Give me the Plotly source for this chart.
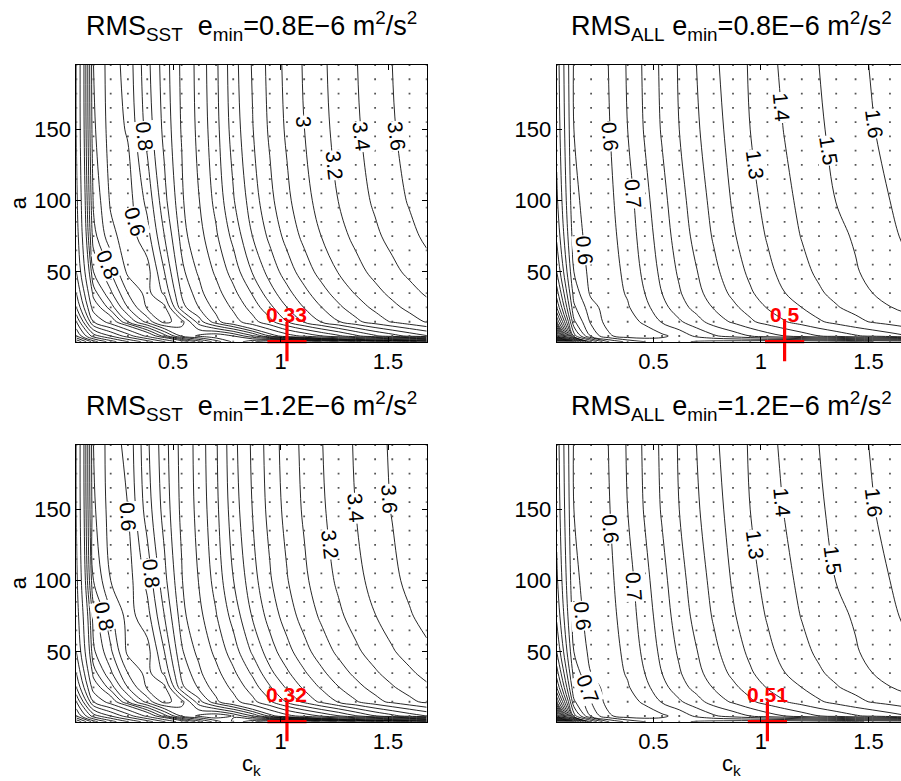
import math
import plotly.graph_objects as go

W, H = 901, 781

# parameter grid of the RMS surfaces
c_k = [0.05, 0.13, 0.21, 0.29, 0.38, 0.46, 0.54, 0.62, 0.70, 0.78, 0.87,
       0.95, 1.03, 1.11, 1.19, 1.27, 1.35, 1.44, 1.52, 1.60, 1.68]
a_rows = [1, 5, 15, 25, 35, 50, 75, 100, 150, 195]

# sampled parameter points shown as dots
sample_ck = c_k
sample_a = [1, 5, 15, 25, 35, 45, 55, 65, 75, 85, 95, 105, 115, 125, 135,
            145, 155, 165, 175, 185, 195]

rms_sst_08 = [
    [3.6, 2.9, 2.5, 2.2, 1.9, 1.6, 1.3, 1.05, 0.85, 0.68, 0.52, 0.40, 0.33, 0.40, 0.50, 0.60, 0.68, 0.75, 0.81, 0.87, 0.94],
    [3.0, 2.3, 2.0, 1.7, 1.35, 1.05, 0.78, 0.68, 0.62, 0.70, 0.88, 1.10, 1.30, 1.44, 1.595, 1.755, 1.951, 2.16, 2.306, 2.45, 2.582],
    [2.6, 1.6, 1.3, 1.0, 0.76, 0.56, 0.66, 0.95, 1.158, 1.312, 1.525, 1.736, 1.994, 2.221, 2.415, 2.591, 2.749, 2.902, 3.019, 3.122, 3.215],
    [2.2, 1.3, 1.05, 0.80, 0.585, 0.575, 0.963, 1.10, 1.239, 1.434, 1.682, 1.945, 2.198, 2.406, 2.595, 2.762, 2.906, 3.043, 3.152, 3.247, 3.336],
    [2.0, 1.15, 0.92, 0.70, 0.565, 0.72, 1.011, 1.153, 1.326, 1.541, 1.82, 2.116, 2.335, 2.541, 2.725, 2.883, 3.014, 3.144, 3.245, 3.338, 3.424],
    [1.8, 1.0, 0.80, 0.575, 0.56, 0.80, 1.071, 1.219, 1.436, 1.682, 2.016, 2.275, 2.498, 2.699, 2.871, 3.01, 3.133, 3.254, 3.352, 3.441, 3.527],
    [1.7, 0.84, 0.63, 0.55, 0.66, 0.90, 1.134, 1.325, 1.57, 1.857, 2.203, 2.446, 2.667, 2.852, 3.002, 3.133, 3.248, 3.365, 3.458, 3.55, 3.638],
    [1.65, 0.78, 0.585, 0.555, 0.73, 0.97, 1.174, 1.393, 1.659, 1.98, 2.304, 2.546, 2.757, 2.931, 3.077, 3.204, 3.316, 3.43, 3.524, 3.618, 3.703],
    [1.6, 0.72, 0.555, 0.61, 0.84, 1.03, 1.209, 1.451, 1.735, 2.085, 2.391, 2.632, 2.834, 2.998, 3.139, 3.261, 3.371, 3.482, 3.581, 3.672, 3.753],
    [1.6, 0.70, 0.55, 0.64, 0.87, 1.05, 1.22, 1.47, 1.76, 2.12, 2.42, 2.66, 2.86, 3.02, 3.16, 3.28, 3.39, 3.50, 3.60, 3.69, 3.77],
]

rms_all_08 = [
    [3.6, 1.9, 1.2, 0.9, 0.77, 0.70, 0.65, 0.62, 0.59, 0.57, 0.555, 0.54, 0.52, 0.502, 0.51, 0.53, 0.56, 0.585, 0.60, 0.62, 0.635],
    [2.6, 1.15, 0.78, 0.62, 0.54, 0.535, 0.58, 0.635, 0.72, 0.785, 0.845, 0.90, 0.956, 1.00, 1.05, 1.098, 1.138, 1.187, 1.22, 1.258, 1.295],
    [1.8, 0.92, 0.68, 0.56, 0.555, 0.62, 0.71, 0.785, 0.86, 0.945, 1.015, 1.083, 1.138, 1.194, 1.24, 1.287, 1.33, 1.373, 1.41, 1.436, 1.464],
    [1.5, 0.82, 0.64, 0.55, 0.59, 0.67, 0.765, 0.855, 0.935, 1.006, 1.08, 1.138, 1.206, 1.256, 1.30, 1.352, 1.392, 1.43, 1.46, 1.497, 1.525],
    [1.35, 0.76, 0.58, 0.55, 0.61, 0.70, 0.80, 0.89, 0.97, 1.046, 1.12, 1.188, 1.243, 1.298, 1.346, 1.388, 1.424, 1.46, 1.50, 1.529, 1.556],
    [1.2, 0.70, 0.565, 0.555, 0.625, 0.725, 0.825, 0.915, 0.995, 1.075, 1.155, 1.219, 1.276, 1.33, 1.376, 1.416, 1.453, 1.492, 1.526, 1.556, 1.587],
    [1.08, 0.65, 0.555, 0.565, 0.645, 0.75, 0.85, 0.945, 1.03, 1.11, 1.19, 1.247, 1.308, 1.36, 1.404, 1.44, 1.478, 1.51, 1.55, 1.584, 1.614],
    [1.02, 0.625, 0.55, 0.575, 0.66, 0.77, 0.87, 0.965, 1.05, 1.13, 1.21, 1.27, 1.328, 1.377, 1.42, 1.457, 1.502, 1.537, 1.565, 1.60, 1.632],
    [0.97, 0.60, 0.548, 0.59, 0.70, 0.81, 0.91, 1.00, 1.085, 1.16, 1.237, 1.30, 1.356, 1.404, 1.446, 1.487, 1.524, 1.563, 1.596, 1.627, 1.657],
    [0.95, 0.59, 0.545, 0.60, 0.71, 0.82, 0.92, 1.01, 1.10, 1.18, 1.25, 1.31, 1.37, 1.42, 1.46, 1.50, 1.535, 1.574, 1.608, 1.64, 1.67],
]

rms_sst_12 = [
    [3.6, 2.9, 2.5, 2.2, 1.9, 1.6, 1.3, 1.05, 0.85, 0.68, 0.52, 0.40, 0.32, 0.40, 0.51, 0.61, 0.70, 0.77, 0.83, 0.89, 0.96],
    [3.0, 2.3, 2.0, 1.7, 1.35, 1.05, 0.78, 0.68, 0.62, 0.71, 0.90, 1.13, 1.33, 1.47, 1.625, 1.785, 1.98, 2.19, 2.335, 2.48, 2.61],
    [2.6, 1.6, 1.3, 1.0, 0.76, 0.56, 0.66, 0.96, 1.17, 1.325, 1.54, 1.766, 2.024, 2.251, 2.445, 2.621, 2.779, 2.932, 3.049, 3.152, 3.245],
    [2.2, 1.3, 1.05, 0.80, 0.585, 0.575, 0.975, 1.115, 1.254, 1.449, 1.697, 1.975, 2.228, 2.436, 2.625, 2.792, 2.936, 3.073, 3.182, 3.277, 3.366],
    [2.0, 1.15, 0.92, 0.70, 0.565, 0.72, 1.025, 1.168, 1.341, 1.556, 1.835, 2.146, 2.365, 2.571, 2.755, 2.913, 3.044, 3.174, 3.275, 3.368, 3.454],
    [1.8, 1.02, 0.82, 0.575, 0.56, 0.80, 1.085, 1.234, 1.451, 1.697, 2.031, 2.305, 2.528, 2.729, 2.901, 3.04, 3.163, 3.284, 3.382, 3.471, 3.557],
    [1.7, 0.95, 0.72, 0.56, 0.66, 0.90, 1.149, 1.34, 1.585, 1.872, 2.218, 2.476, 2.697, 2.882, 3.032, 3.163, 3.278, 3.395, 3.488, 3.58, 3.668],
    [1.65, 0.80, 0.60, 0.555, 0.73, 0.97, 1.189, 1.408, 1.674, 1.995, 2.32, 2.576, 2.787, 2.961, 3.107, 3.234, 3.346, 3.46, 3.554, 3.648, 3.733],
    [1.6, 0.72, 0.555, 0.60, 0.85, 1.04, 1.224, 1.466, 1.75, 2.10, 2.407, 2.662, 2.864, 3.028, 3.169, 3.291, 3.401, 3.512, 3.611, 3.702, 3.783],
    [1.6, 0.70, 0.55, 0.63, 0.88, 1.06, 1.235, 1.485, 1.775, 2.135, 2.435, 2.69, 2.89, 3.05, 3.19, 3.31, 3.42, 3.53, 3.63, 3.72, 3.80],
]

rms_all_12 = [
    [3.6, 1.9, 1.2, 0.9, 0.77, 0.70, 0.65, 0.62, 0.59, 0.57, 0.55, 0.53, 0.51, 0.515, 0.53, 0.55, 0.57, 0.59, 0.61, 0.625, 0.64],
    [2.6, 1.15, 0.78, 0.62, 0.54, 0.535, 0.58, 0.635, 0.72, 0.785, 0.845, 0.90, 0.956, 1.00, 1.05, 1.098, 1.138, 1.187, 1.22, 1.258, 1.295],
    [1.8, 0.92, 0.70, 0.56, 0.555, 0.62, 0.71, 0.785, 0.86, 0.945, 1.015, 1.083, 1.138, 1.194, 1.24, 1.287, 1.33, 1.373, 1.41, 1.436, 1.464],
    [1.5, 0.82, 0.66, 0.55, 0.59, 0.67, 0.765, 0.855, 0.935, 1.006, 1.08, 1.138, 1.206, 1.256, 1.30, 1.352, 1.392, 1.43, 1.46, 1.497, 1.525],
    [1.35, 0.76, 0.60, 0.55, 0.61, 0.70, 0.80, 0.89, 0.97, 1.046, 1.12, 1.188, 1.243, 1.298, 1.346, 1.388, 1.424, 1.46, 1.50, 1.529, 1.556],
    [1.2, 0.70, 0.57, 0.555, 0.625, 0.725, 0.825, 0.915, 0.995, 1.075, 1.155, 1.219, 1.276, 1.33, 1.376, 1.416, 1.453, 1.492, 1.526, 1.556, 1.587],
    [1.08, 0.65, 0.555, 0.565, 0.645, 0.75, 0.85, 0.945, 1.03, 1.11, 1.19, 1.247, 1.308, 1.36, 1.404, 1.44, 1.478, 1.51, 1.55, 1.584, 1.614],
    [1.02, 0.625, 0.55, 0.575, 0.66, 0.77, 0.87, 0.965, 1.05, 1.13, 1.21, 1.27, 1.328, 1.377, 1.42, 1.457, 1.502, 1.537, 1.565, 1.60, 1.632],
    [0.97, 0.60, 0.548, 0.59, 0.70, 0.81, 0.91, 1.00, 1.085, 1.16, 1.237, 1.30, 1.356, 1.404, 1.446, 1.487, 1.524, 1.563, 1.596, 1.627, 1.657],
    [0.95, 0.59, 0.545, 0.60, 0.71, 0.82, 0.92, 1.01, 1.10, 1.18, 1.25, 1.31, 1.37, 1.42, 1.46, 1.50, 1.535, 1.574, 1.608, 1.64, 1.67],
]

# contour levels: fine spacing for low RMS values, coarser above
levels_sst = [(0.4, 1.2, 0.1), (1.4, 8.0, 0.2)]
levels_all = [(0.5, 4.0, 0.1)]

# contour labels: (level, a where the label sits, c_k search window)
labels_sst_08 = [(0.8, 145, 0.30, 0.50), (0.6, 85, 0.25, 0.45), (0.8, 55, 0.10, 0.30),
                 (3.0, 155, 0.9, 1.3), (3.2, 125, 1.0, 1.4), (3.4, 145, 1.2, 1.5), (3.6, 145, 1.4, 1.68)]
labels_all_08 = [(0.6, 145, 0.20, 0.40), (0.7, 105, 0.30, 0.55), (0.6, 65, 0.08, 0.30),
                 (1.3, 125, 0.8, 1.1), (1.4, 165, 0.95, 1.25), (1.5, 135, 1.1, 1.45), (1.6, 154, 1.35, 1.64)]
labels_sst_12 = [(0.6, 145, 0.20, 0.40), (0.8, 105, 0.30, 0.50), (0.8, 75, 0.10, 0.30),
                 (3.2, 125, 1.0, 1.4), (3.4, 151, 1.2, 1.5), (3.6, 157, 1.4, 1.68)]
labels_all_12 = [(0.6, 136, 0.20, 0.40), (0.7, 96, 0.30, 0.55), (0.6, 75, 0.08, 0.30), (0.7, 24, 0.08, 0.35),
                 (1.3, 125, 0.8, 1.1), (1.4, 155, 0.95, 1.25), (1.5, 114, 1.1, 1.45), (1.6, 155, 1.35, 1.64)]

FONT = "Liberation Sans, Arial, Helvetica, sans-serif"
NB = "\u00a0"
PLOT_W = 350.4  # width of one full panel in pixels

# panel geometry in pixels: left, right, top, bottom and visible c_k range
panels = [
    dict(z=rms_sst_08, labels=labels_sst_08, levels=levels_sst,
         title="RMS<sub>SST</sub>" + NB * 2 + "e<sub>min</sub>=0.8E\u22126 m<sup>2</sup>/s<sup>2</sup>",
         box=(76.3, 426.7, 65.0, 341.7), xr=(0.05, 1.68), ylab=True, xlab=False),
    dict(z=rms_all_08, labels=labels_all_08, levels=levels_all,
         title="RMS<sub>ALL</sub> e<sub>min</sub>=0.8E\u22126 m<sup>2</sup>/s<sup>2</sup>",
         box=(556.7, 901.0, 65.0, 341.7), xr=(0.05, 0.05 + (901.0 - 556.7) / 215.0), ylab=False, xlab=False),
    dict(z=rms_sst_12, labels=labels_sst_12, levels=levels_sst,
         title="RMS<sub>SST</sub>" + NB * 2 + "e<sub>min</sub>=1.2E\u22126 m<sup>2</sup>/s<sup>2</sup>",
         box=(76.3, 426.7, 445.0, 721.7), xr=(0.05, 1.68), ylab=True, xlab=True),
    dict(z=rms_all_12, labels=labels_all_12, levels=levels_all,
         title="RMS<sub>ALL</sub> e<sub>min</sub>=1.2E\u22126 m<sup>2</sup>/s<sup>2</sup>",
         box=(556.7, 901.0, 445.0, 721.7), xr=(0.05, 0.05 + (901.0 - 556.7) / 215.0), ylab=False, xlab=True),
]

A_RANGE = (1, 195)


def row_at(z, a):
    for i in range(len(a_rows) - 1):
        if a_rows[i] <= a <= a_rows[i + 1]:
            t = (a - a_rows[i]) / (a_rows[i + 1] - a_rows[i])
            return [(1 - t) * z[i][j] + t * z[i + 1][j] for j in range(len(c_k))]
    return z[-1] if a > a_rows[-1] else z[0]


def crossing(z, level, a, lo, hi):
    r = row_at(z, a)
    for j in range(len(c_k) - 1):
        v0, v1 = r[j], r[j + 1]
        if v0 == v1 or (v0 - level) * (v1 - level) > 0:
            continue
        c = c_k[j] + (level - v0) / (v1 - v0) * (c_k[j + 1] - c_k[j])
        if lo <= c <= hi:
            return c
    return None


fig = go.Figure()
annotations = []

for k, p in enumerate(panels):
    xa = "x" if k == 0 else f"x{k + 1}"
    ya = "y" if k == 0 else f"y{k + 1}"
    z = p["z"]
    L, R, T, B = p["box"]
    cx = L + PLOT_W / 2
    sx = (R - L) / (p["xr"][1] - p["xr"][0])
    sy = (B - T) / (A_RANGE[1] - A_RANGE[0])

    for start, end, size in p["levels"]:
        fig.add_trace(go.Contour(
            x=c_k, y=a_rows, z=z, xaxis=xa, yaxis=ya,
            autocontour=False,
            contours=dict(start=start, end=end + 1e-6, size=size,
                          coloring="none", showlabels=False),
            line=dict(color="black", width=0.85, smoothing=1),
            showscale=False, hoverinfo="skip"))

    fig.add_trace(go.Scatter(
        x=[c for _ in sample_a for c in sample_ck],
        y=[a for a in sample_a for _ in sample_ck],
        mode="markers", xaxis=xa, yaxis=ya,
        marker=dict(size=1.8, color="#555555", symbol="square"),
        hoverinfo="skip", showlegend=False))

    # contour value labels placed on their lines
    for level, a0, lo, hi in p["labels"]:
        c0 = crossing(z, level, a0, lo, hi)
        if c0 is None:
            continue
        a_hi, a_lo = min(a0 + 6, 195), max(a0 - 6, 1)
        c_up = crossing(z, level, a_hi, lo - 0.1, hi + 0.1) or c0
        c_dn = crossing(z, level, a_lo, lo - 0.1, hi + 0.1) or c0
        ang = math.degrees(math.atan2((a_hi - a_lo) * sy, (c_dn - c_up) * sx))
        annotations.append(dict(
            x=c0, y=a0, xref=xa, yref=ya, text=f"{level:g}", showarrow=False,
            textangle=ang, font=dict(family=FONT, size=21, color="black"),
            bgcolor="white", borderpad=0))

    # minimum of the surface
    vmin, imin, jmin = min((z[i][j], i, j) for i in range(len(a_rows)) for j in range(len(c_k)))
    fig.add_trace(go.Scatter(
        x=[c_k[jmin]], y=[a_rows[imin]], mode="markers", xaxis=xa, yaxis=ya,
        marker=dict(symbol="cross-thin", size=28, line=dict(color="red", width=3.2)),
        cliponaxis=False, hoverinfo="skip", showlegend=False))
    annotations.append(dict(
        x=c_k[jmin], y=a_rows[imin], xref=xa, yref=ya, text=f"<b>{round(vmin, 2):g}</b>",
        showarrow=False, yshift=27, font=dict(family=FONT, size=21, color="red")))

    # panel title and axis titles
    annotations.append(dict(
        x=cx / W, y=1 - (T - 39) / H, xref="paper", yref="paper",
        text=p["title"], showarrow=False, xanchor="center", yanchor="middle",
        font=dict(family=FONT, size=27, color="black")))
    if p["ylab"]:
        annotations.append(dict(
            x=18 / W, y=1 - ((T + B) / 2) / H, xref="paper", yref="paper", text="a",
            showarrow=False, textangle=-90, xanchor="center", yanchor="middle",
            font=dict(family=FONT, size=22, color="black")))
    if p["xlab"]:
        annotations.append(dict(
            x=cx / W, y=1 - (B + 43) / H, xref="paper", yref="paper",
            text="c<sub>k</sub>", showarrow=False, xanchor="center", yanchor="middle",
            font=dict(family=FONT, size=22, color="black")))

    axis_common = dict(showgrid=False, zeroline=False, showline=True, linecolor="black",
                       linewidth=1, ticks="inside", ticklen=5, tickcolor="black",
                       tickfont=dict(family=FONT, size=22, color="black"))
    fig.update_layout(**{
        ("xaxis" if k == 0 else f"xaxis{k + 1}"): dict(
            domain=[L / W, min(R / W, 1.0)], range=list(p["xr"]), anchor=ya,
            tickvals=[0.5, 1, 1.5], ticktext=["0.5", "1", "1.5"], mirror="ticks", **axis_common),
        ("yaxis" if k == 0 else f"yaxis{k + 1}"): dict(
            domain=[1 - B / H, 1 - T / H], range=list(A_RANGE), anchor=xa,
            tickvals=[50, 100, 150], ticktext=["50", "100", "150"],
            mirror="ticks" if p["ylab"] else False, **axis_common),
    })

fig.update_layout(
    width=W, height=H, margin=dict(l=0, r=0, t=0, b=0),
    paper_bgcolor="white", plot_bgcolor="white", showlegend=False,
    annotations=annotations, font=dict(family=FONT, color="black"))

fig.write_html("out.html")
